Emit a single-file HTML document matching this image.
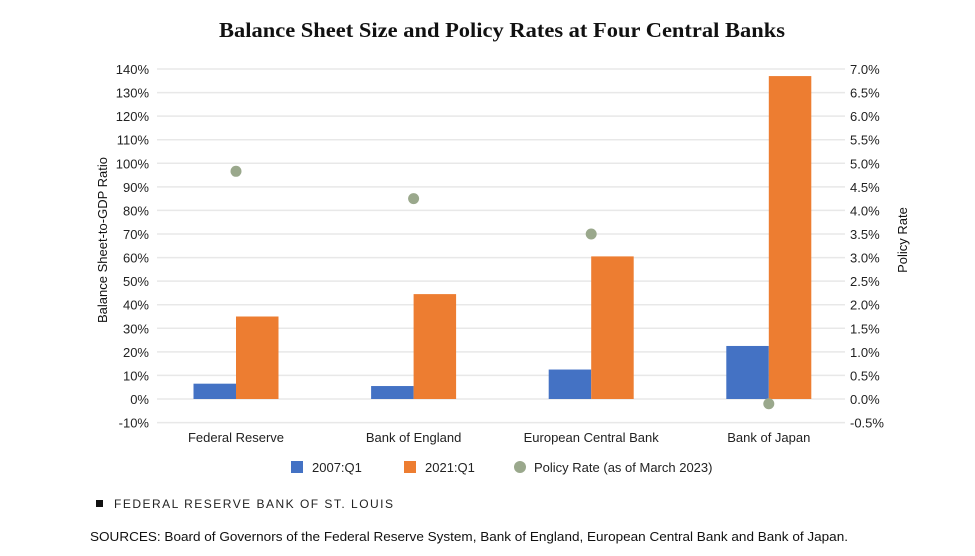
<!DOCTYPE html>
<html><head><meta charset="utf-8"><style>
body{margin:0;background:#fff;width:975px;height:551px;overflow:hidden;font-family:"Liberation Sans",sans-serif;}
</style></head><body>
<svg width="975" height="551" id="c" font-family="Liberation Sans, sans-serif">
<text x="502" y="37" text-anchor="middle" font-family="Liberation Serif, serif" font-weight="bold" font-size="21.5" fill="#111" textLength="566" lengthAdjust="spacingAndGlyphs">Balance Sheet Size and Policy Rates at Four Central Banks</text>
<g id="grid"></g><g id="bars"></g><g id="dots"></g><g id="labels"></g>
<text transform="translate(107,240) rotate(-90)" text-anchor="middle" font-size="13" fill="#111">Balance Sheet-to-GDP Ratio</text>
<text transform="translate(907,240) rotate(-90)" text-anchor="middle" font-size="13" fill="#111">Policy Rate</text>
<g font-size="13" fill="#222">
<rect x="291" y="461" width="12" height="12" fill="#4472c4"/>
<text x="312" y="472">2007:Q1</text>
<rect x="404" y="461" width="12" height="12" fill="#ed7d31"/>
<text x="425" y="472">2021:Q1</text>
<circle cx="520" cy="467" r="6" fill="#9aa88c"/>
<text x="534" y="472">Policy Rate (as of March 2023)</text>
</g>
<rect x="96" y="500" width="7" height="7" fill="#111"/>
<text x="114" y="508" font-size="12" textLength="279" lengthAdjust="spacing" fill="#222">FEDERAL RESERVE BANK OF ST. LOUIS</text>
<text x="90" y="541" font-size="13" fill="#111" textLength="758" lengthAdjust="spacingAndGlyphs">SOURCES: Board of Governors of the Federal Reserve System, Bank of England, European Central Bank and Bank of Japan.</text>
</svg>
<script>
const categories=["Federal Reserve","Bank of England","European Central Bank","Bank of Japan"];
const values2007=[6.5,5.5,12.5,22.5];
const values2021=[35,44.5,60.5,137];
const policyRates=[4.83,4.25,3.5,-0.1];
const leftTicks=[-10,0,10,20,30,40,50,60,70,80,90,100,110,120,130,140];
const rightTicks=[-0.5,0,0.5,1,1.5,2,2.5,3,3.5,4,4.5,5,5.5,6,6.5,7];
const NS="http://www.w3.org/2000/svg";
const y0=399,pxPer=23.571;
const yL=v=>y0-v*pxPer/10;
const yR=v=>y0-v*pxPer*2;
const xC=i=>236+i*177.6;
function mk(tag,attrs,parent,txt){const e=document.createElementNS(NS,tag);for(const k in attrs)e.setAttribute(k,attrs[k]);if(txt!==undefined)e.textContent=txt;document.getElementById(parent).appendChild(e);return e;}
leftTicks.forEach(t=>{
 const l=mk("line",{x1:157,x2:845,y1:yL(t),y2:yL(t),stroke:"#e8e8e8","stroke-width":1.5},"grid");
 
 
 const tx=mk("text",{x:149,y:yL(t)+5,"text-anchor":"end","font-size":13,fill:"#222"},"labels",t+"%");
 
 
});
rightTicks.forEach(t=>{
 const tx=mk("text",{x:850,y:yR(t)+5,"font-size":13,fill:"#222"},"labels",t.toFixed(1)+"%");
 
 
});
categories.forEach((c,i)=>{
 const x=xC(i);
 const b1=mk("rect",{x:x-42.5,y:yL(values2007[i]),width:42.5,height:yL(0)-yL(values2007[i]),fill:"#4472c4"},"bars");
 
 
 const b2=mk("rect",{x:x,y:yL(values2021[i]),width:42.5,height:yL(0)-yL(values2021[i]),fill:"#ed7d31"},"bars");
 
 
 const d=mk("circle",{cx:x,cy:yR(policyRates[i]),r:5.5,fill:"#9aa88c"},"dots");
 
 
 const t=mk("text",{x:x,y:442,"text-anchor":"middle","font-size":13,fill:"#222"},"labels",c);
 
 
});
</script>
</body></html>
